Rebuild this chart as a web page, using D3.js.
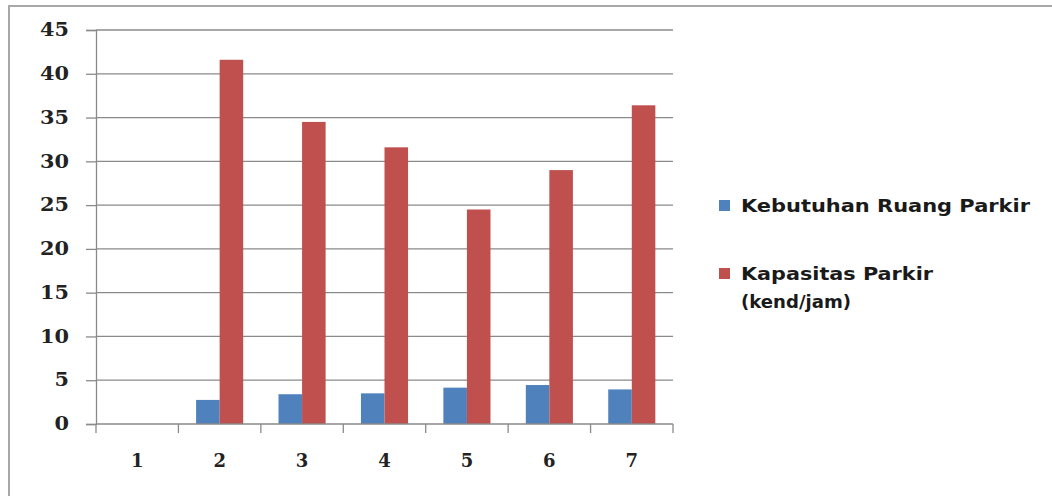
<!DOCTYPE html>
<html>
<head>
<meta charset="utf-8">
<script src="https://cdn.jsdelivr.net/npm/d3@7"></script>
<style>
  body { margin: 0; background: #fff; }
  svg { display: block; }
</style>
</head>
<body>
<div id="chart"></div>
<script>
// data
const categories = ["1", "2", "3", "4", "5", "6", "7"];
const seriesNames = ["Kebutuhan Ruang Parkir", "Kapasitas Parkir (kend/jam)"];
const kebutuhan = [0, 2.75, 3.4, 3.5, 4.15, 4.45, 3.95];
const kapasitas = [0, 41.6, 34.5, 31.6, 24.5, 29.0, 36.4];
const yTicks = [0, 5, 10, 15, 20, 25, 30, 35, 40, 45];

const W = 1052, H = 496;
const margin = { top: 30, left: 96, right: 379, bottom: 72 };
const width = 673 - margin.left, height = 424 - margin.top;
const colors = ["#4f81bd", "#c0504d"];
const gray = "#8a8a8a";

const svg = d3.select("#chart").append("svg")
  .attr("width", W).attr("height", H);

// outer frame (only top and left edges show in the picture)
svg.append("rect")
  .attr("x", 9).attr("y", 6)
  .attr("width", W + 20).attr("height", H + 20)
  .attr("fill", "none").attr("stroke", "#a8a8a8").attr("stroke-width", 2);

const g = svg.append("g")
  .attr("transform", "translate(" + margin.left + "," + margin.top + ")");

// scales
const x0 = d3.scaleBand().domain(categories).range([0, width]).padding(0);
const x1 = d3.scaleBand().domain(seriesNames).range([0, x0.bandwidth()])
  .paddingInner(0).paddingOuter(0.75);
const y = d3.scaleLinear().domain([0, 45]).range([height, 0]);

// gridlines
g.append("g").selectAll("line").data(yTicks.filter(d => d > 0)).join("line")
  .attr("x1", 0).attr("x2", width)
  .attr("y1", d => y(d)).attr("y2", d => y(d))
  .attr("stroke", gray).attr("stroke-width", 1.3);

// y axis
const yAxis = g.append("g")
  .call(d3.axisLeft(y).tickValues(yTicks).tickSize(10).tickPadding(17));
yAxis.select(".domain").attr("stroke", gray).attr("stroke-width", 1.3);
yAxis.selectAll(".tick line").attr("stroke", gray).attr("stroke-width", 1.3);
yAxis.selectAll(".tick text")
  .attr("font-family", "'DejaVu Serif', serif")
  .attr("font-weight", "bold")
  .attr("font-size", 18)
  .attr("fill", "#222")
  .attr("textLength", d => String(d).length * 14.5)
  .attr("lengthAdjust", "spacingAndGlyphs");

// bars
const rows = categories.map((c, i) => ({ cat: c, vals: [kebutuhan[i], kapasitas[i]] }));
g.append("g").selectAll("g").data(rows).join("g")
  .attr("transform", d => "translate(" + x0(d.cat) + ",0)")
  .selectAll("rect")
  .data(d => d.vals.map((v, j) => ({ key: seriesNames[j], v, j })))
  .join("rect")
  .attr("x", d => x1(d.key))
  .attr("width", x1.bandwidth())
  .attr("y", d => y(d.v))
  .attr("height", d => height - y(d.v))
  .attr("fill", d => colors[d.j]);

// x axis: line, boundary ticks, labels
const xg = g.append("g").attr("transform", "translate(0," + height + ")");
xg.append("line").attr("x1", 0).attr("x2", width)
  .attr("stroke", gray).attr("stroke-width", 1.3);
const bounds = categories.map(c => x0(c)).concat([width]);
xg.selectAll(".bt").data(bounds).join("line")
  .attr("class", "bt")
  .attr("x1", d => d).attr("x2", d => d)
  .attr("y1", 0).attr("y2", 9)
  .attr("stroke", gray).attr("stroke-width", 1.3);
xg.selectAll(".xl").data(categories).join("text")
  .attr("class", "xl")
  .attr("x", d => x0(d) + x0.bandwidth() / 2)
  .attr("y", 43)
  .attr("text-anchor", "middle")
  .attr("font-family", "'DejaVu Serif', serif")
  .attr("font-weight", "bold")
  .attr("font-size", 18)
  .attr("fill", "#222")
  .text(d => d);

// legend
const legend = svg.append("g").attr("transform", "translate(719,200)");
const legendLines = [["Kebutuhan Ruang Parkir"], ["Kapasitas Parkir", "(kend/jam)"]];
const legendWidths = [[289], [192, 110]];
legendLines.forEach((lines, i) => {
  const item = legend.append("g").attr("transform", "translate(0," + i * 68 + ")");
  item.append("rect").attr("width", 11).attr("height", 11).attr("fill", colors[i]);
  lines.forEach((t, k) => {
    item.append("text")
      .attr("x", 22).attr("y", 12 + k * 28)
      .attr("font-family", "'DejaVu Sans', sans-serif")
      .attr("font-weight", "bold")
      .attr("font-size", 17)
      .attr("fill", "#1a1a1a")
      .attr("textLength", legendWidths[i][k])
      .attr("lengthAdjust", "spacingAndGlyphs")
      .text(t);
  });
});
</script>
</body>
</html>
